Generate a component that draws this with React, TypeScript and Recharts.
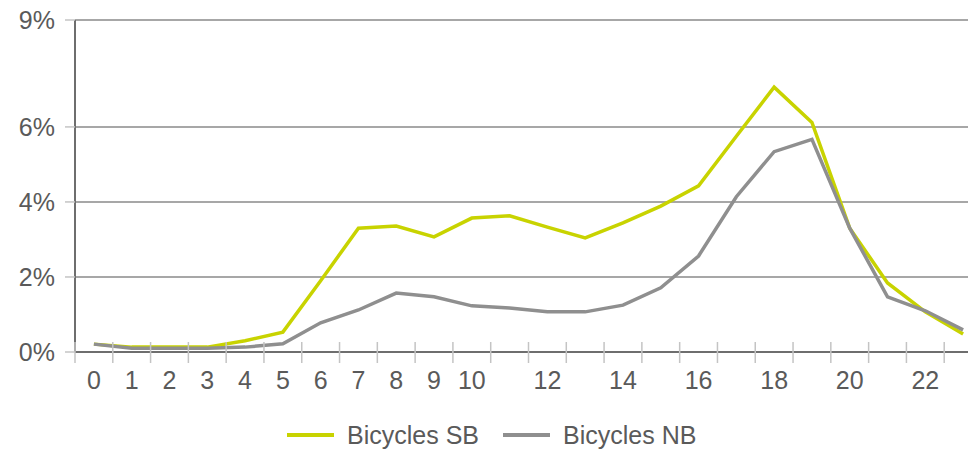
import { CartesianGrid, Legend, Line, LineChart, XAxis, YAxis } from "recharts";

const HOURS = [
  0, 1, 2, 3, 4, 5, 6, 7, 8, 9, 10, 11, 12, 13, 14, 15, 16, 17, 18, 19, 20, 21, 22, 23,
];

// share of daily bicycle traffic, in %
const BICYCLES_SB = [
  0.21, 0.13, 0.13, 0.13, 0.3, 0.53, 1.9, 3.3, 3.36, 3.07, 3.57, 3.63, 3.33, 3.04, 3.44,
  3.89, 4.43, 5.75, 7.06, 6.12, 3.3, 1.84, 1.07, 0.48,
];
const BICYCLES_NB = [
  0.21, 0.1, 0.1, 0.1, 0.13, 0.22, 0.78, 1.12, 1.57, 1.47, 1.23, 1.17, 1.07, 1.07, 1.25,
  1.71, 2.56, 4.14, 5.34, 5.67, 3.3, 1.47, 1.1, 0.59,
];

const X_LABELS = [0, 1, 2, 3, 4, 5, 6, 7, 8, 9, 10, 12, 14, 16, 18, 20, 22];
const Y_TICKS = [0, 2, 4, 6, 8.85];

const SB_COLOR = "#c8d300";
const NB_COLOR = "#8f8f8f";
const TEXT_COLOR = "#5a5a5a";
const FONT = "'Liberation Sans', Arial, sans-serif";

const chartData = HOURS.map((hour, i) => ({
  hour,
  sb: BICYCLES_SB[i],
  nb: BICYCLES_NB[i],
}));

type TickProps = {
  x?: number;
  y?: number;
  payload?: { value: number; offset?: number };
};

function HourTick({ x = 0, y = 0, payload }: TickProps) {
  if (!payload) return null;
  const boundary = x - (payload.offset ?? 0);
  return (
    <g>
      <line x1={boundary} x2={boundary} y1={y - 10} y2={y + 11} stroke="#c4c4c4" strokeWidth={1.5} />
      {X_LABELS.includes(payload.value) && (
        <text x={x} y={y + 37} textAnchor="middle" fill={TEXT_COLOR} fontSize={25} fontFamily={FONT}>
          {payload.value}
        </text>
      )}
    </g>
  );
}

function ChartLegend() {
  const item = (color: string, label: string, left: number) => (
    <div
      style={{
        position: "absolute",
        left,
        top: 18,
        display: "flex",
        alignItems: "center",
        whiteSpace: "nowrap",
      }}
    >
      <div style={{ width: 47, height: 4, background: color, marginRight: 13 }} />
      <span style={{ fontFamily: FONT, fontSize: 25, color: TEXT_COLOR, lineHeight: "30px" }}>{label}</span>
    </div>
  );
  return (
    <div style={{ position: "relative", width: 1000, height: 48 }}>
      {item(SB_COLOR, "Bicycles SB", 287)}
      {item(NB_COLOR, "Bicycles NB", 503)}
    </div>
  );
}

export default function App() {
  return (
    <div
      style={{
        position: "absolute",
        left: 0,
        top: 0,
        width: 968,
        height: 450,
        overflow: "hidden",
        background: "#fff",
      }}
    >
      <LineChart width={1000} height={450} data={chartData} margin={{ top: 20, right: 18, bottom: 0, left: 0 }}>
        <CartesianGrid vertical={false} stroke="#8a8a8a" strokeWidth={1.5} />
        <XAxis
          dataKey="hour"
          type="category"
          scale="band"
          interval={0}
          height={50}
          tickSize={0}
          tickMargin={0}
          tick={<HourTick />}
          axisLine={{ stroke: "#6e6e6e", strokeWidth: 2 }}
        />
        <YAxis
          type="number"
          width={75}
          domain={[0, 8.85]}
          ticks={Y_TICKS}
          tickFormatter={(v: number) => `${Math.round(v)}%`}
          tick={{ fill: TEXT_COLOR, fontSize: 25, fontFamily: FONT }}
          tickSize={10}
          tickMargin={10}
          tickLine={{ stroke: "#c4c4c4", strokeWidth: 1.5 }}
          axisLine={{ stroke: "#6e6e6e", strokeWidth: 2 }}
        />
        <Legend verticalAlign="bottom" content={<ChartLegend />} wrapperStyle={{ left: 0, width: 1000 }} />
        <Line
          type="linear"
          dataKey="sb"
          name="Bicycles SB"
          stroke={SB_COLOR}
          strokeWidth={3.5}
          dot={false}
          isAnimationActive={false}
        />
        <Line
          type="linear"
          dataKey="nb"
          name="Bicycles NB"
          stroke={NB_COLOR}
          strokeWidth={3.5}
          dot={false}
          isAnimationActive={false}
        />
      </LineChart>
    </div>
  );
}
